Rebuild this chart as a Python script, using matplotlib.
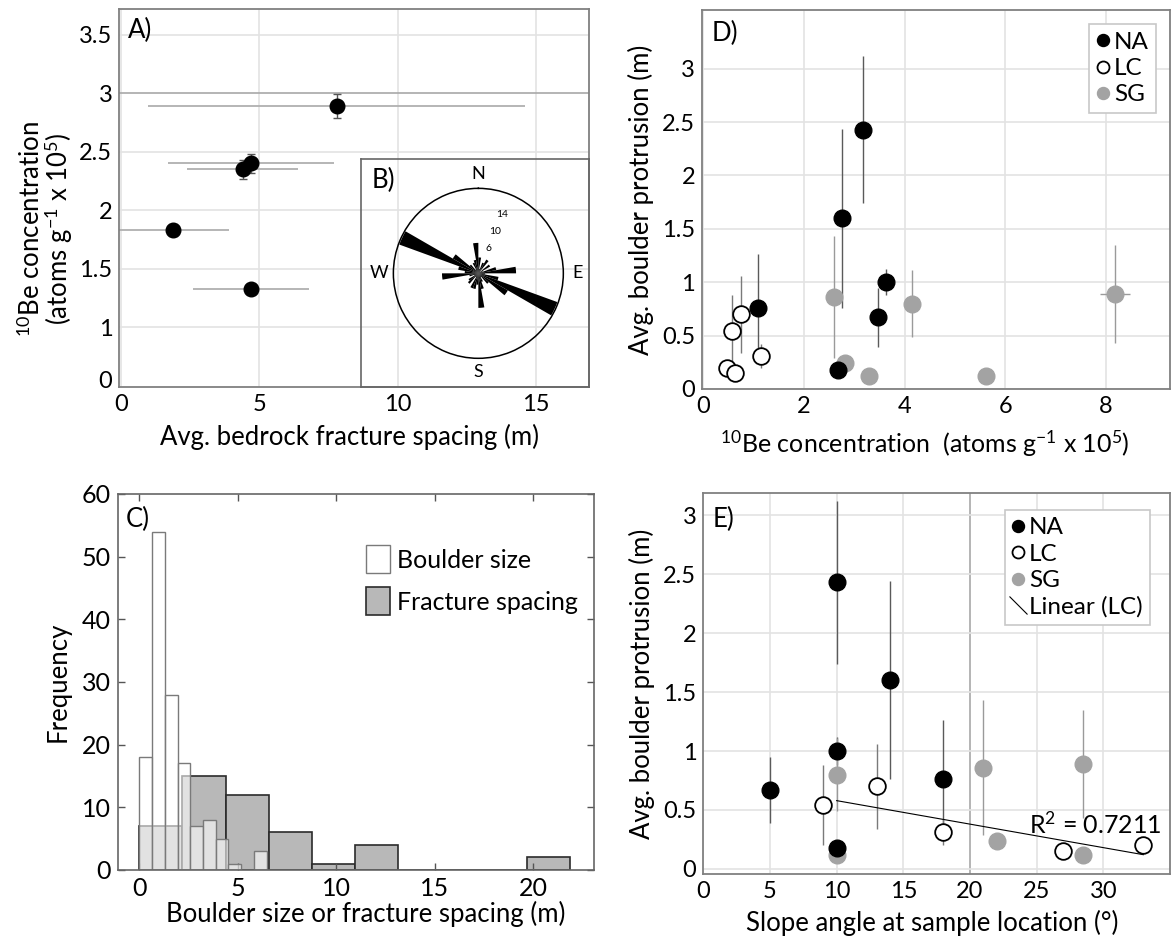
import numpy as np
import matplotlib
matplotlib.use("Agg")
import matplotlib.pyplot as plt
from matplotlib.lines import Line2D
from matplotlib.patches import Patch

plt.rcParams['font.family'] = ['Lato', 'DejaVu Sans']
plt.rcParams['mathtext.fontset'] = 'custom'
plt.rcParams['mathtext.rm'] = 'Lato'
plt.rcParams['mathtext.it'] = 'Lato:italic'
plt.rcParams['mathtext.bf'] = 'Lato:bold'

# A) bedrock fracture spacing vs 10Be concentration
a_spacing = [7.8, 4.4, 4.7, 1.9, 4.7]
a_spacing_err = [6.8, 2.0, 3.0, 2.0, 2.1]
a_be = [2.89, 2.35, 2.40, 1.83, 1.33]
a_be_err = [0.10, 0.08, 0.08, 0.05, 0.02]

# B) rose diagram of fracture orientations, 10 degree bins
rose_bins_deg = [5, 15, 25, 35, 45, 55, 65, 75, 85, 95, 105, 115,
                 125, 135, 145, 155, 165, 175, 185, 195, 205, 215, 225, 235,
                 245, 255, 265, 275, 285, 295, 305, 315, 325, 335, 345, 355]
rose_counts = [3.5, 1, 2.5, 3.5, 0.5, 3, 1, 4, 8.3, 1.5, 4.5, 18.5,
               7.5, 3, 1, 2, 3.5, 7.6, 2.5, 3.5, 3.5, 1, 3, 2.5,
               1, 2, 8, 3, 4.5, 18.5, 6.5, 2.5, 1, 2.5, 3, 6.7]
rose_ring_labels = [6, 10, 14]

# C) histograms
boulder_bin_width = 0.647
boulder_counts = [18, 54, 28, 17, 7, 8, 5, 1, 0, 3]
fracture_bin_width = 2.19
fracture_counts = [7, 15, 12, 6, 1, 4, 0, 0, 0, 2]

# D) / E) boulder protrusion per site
na_be = [1.10, 2.75, 3.17, 3.64, 3.47, 2.67]
na_slope = [18, 14, 10, 10, 5, 10]
na_prot = [0.76, 1.60, 2.43, 1.00, 0.67, 0.18]
na_prot_err = [0.50, 0.84, 0.69, 0.12, 0.28, 0.0]

lc_be = [0.75, 0.57, 0.48, 0.64, 1.16]
lc_slope = [13, 9, 33, 27, 18]
lc_prot = [0.70, 0.54, 0.20, 0.15, 0.31]
lc_prot_err = [0.36, 0.34, 0.0, 0.0, 0.11]

sg_be = [2.59, 2.82, 3.29, 4.15, 5.61, 8.18]
sg_be_err = [0, 0, 0, 0, 0.15, 0.3]
sg_slope = [21, 22, 10, 10, 28.5, 28.5]
sg_prot = [0.86, 0.24, 0.12, 0.80, 0.12, 0.89]
sg_prot_err = [0.57, 0.0, 0.0, 0.31, 0.0, 0.46]

lc_trend_x = [10, 33]
r2_text = "R$^2$ = 0.7211"

TICK = 17
LAB = 18.5
PANEL = 18.5
GRID = '#e3e3e3'
SPINE = '#808080'
SG_GREY = '#a3a3a3'


def excel_style(ax):
    for s in ax.spines.values():
        s.set_color(SPINE)
        s.set_linewidth(1.3)
    ax.tick_params(length=0, labelsize=TICK, pad=5)
    ax.grid(True, color=GRID, lw=1.2)
    ax.set_axisbelow(True)


def fmt(v):
    return f"{v:g}"


fig = plt.figure(figsize=(11.72, 9.38), dpi=100)

# ---------- A ----------
axA = fig.add_axes([0.1018, 0.5871, 0.4005, 0.4033])
excel_style(axA)
axA.errorbar(a_spacing, a_be, xerr=a_spacing_err, fmt='none', ecolor='#b0b0b0', elinewidth=1.3, zorder=2)
axA.errorbar(a_spacing, a_be, yerr=a_be_err, fmt='none', ecolor='#555555', elinewidth=1, capsize=3, zorder=2)
axA.plot(a_spacing, a_be, 'o', color='black', ms=10.5, zorder=3)
axA.set_xlim(-0.05, 16.9)
axA.set_ylim(0.486, 3.72)
axA.set_xticks([0, 5, 10, 15])
yt = [0.556, 1, 1.5, 2, 2.5, 3, 3.5]
axA.set_yticks(yt)
axA.set_yticklabels(['0', '1', '1.5', '2', '2.5', '3', '3.5'])
axA.get_ygridlines()[0].set_visible(False)
axA.get_ygridlines()[5].set_color('#a8a8a8')
axA.set_xlabel("Avg. bedrock fracture spacing (m)", fontsize=LAB, labelpad=6)
axA.xaxis.label.set_x(0.49)
axA.set_ylabel("$^{10}$Be concentration\n(atoms g$^{-1}$ x 10$^{5}$)", fontsize=LAB,
               linespacing=0.9, labelpad=3)
axA.yaxis.label.set_y(0.42)
axA.text(0.019, 0.944, "A)", transform=axA.transAxes, fontsize=PANEL, va='center')

# ---------- B (inset box + rose) ----------
axBox = fig.add_axes([0.308, 0.5871, 0.1943, 0.2434])
axBox.patch.set_alpha(0)
axBox.set_xticks([])
axBox.set_yticks([])
for s in axBox.spines.values():
    s.set_color('#666666')
    s.set_linewidth(1.2)
fig.text(0.317, 0.808, "B)", fontsize=PANEL, va='center')

axB = fig.add_axes([0.3356, 0.618, 0.1451, 0.1812], projection='polar')
axB.set_theta_zero_location('N')
axB.set_theta_direction(-1)
axB.bar(np.deg2rad(rose_bins_deg), rose_counts, width=np.deg2rad(10), color='black', linewidth=0)
axB.set_ylim(0, 18.7)
axB.set_xticks([])
axB.set_yticks([])
axB.grid(False)
axB.patch.set_alpha(0)
axB.spines['polar'].set_linewidth(1.1)
for r in rose_ring_labels:
    axB.text(np.deg2rad(22), r, str(r), fontsize=7.5, ha='center', va='center')
for ang, lab in [(0, 'N'), (90, 'E'), (180, 'S'), (270, 'W')]:
    axB.text(np.deg2rad(ang), 21.8, lab, fontsize=13, ha='center', va='center', clip_on=False)

# ---------- C ----------
axC = fig.add_axes([0.1004, 0.0725, 0.4064, 0.4009])
frac_edges = np.arange(len(fracture_counts)) * fracture_bin_width
bould_edges = np.arange(len(boulder_counts)) * boulder_bin_width
axC.bar(frac_edges, fracture_counts, width=fracture_bin_width, align='edge',
        facecolor='#b8b8b8', edgecolor='#2b2b2b', linewidth=1.2, zorder=1)
axC.bar(bould_edges, boulder_counts, width=boulder_bin_width, align='edge',
        facecolor=(1, 1, 1, 0.6), edgecolor='#7a7a7a', linewidth=1.0, zorder=2)
axC.set_xlim(-1.1, 23.1)
axC.set_ylim(0, 60)
axC.set_xticks([0, 5, 10, 15, 20])
axC.set_yticks(range(0, 61, 10))
axC.tick_params(direction='in', top=True, right=True, length=5, width=1,
                color='#555555', labelsize=TICK + 1, pad=5)
for s in axC.spines.values():
    s.set_color('#666666')
    s.set_linewidth(1.2)
axC.set_xlabel("Boulder size or fracture spacing (m)", fontsize=LAB, labelpad=1)
axC.xaxis.label.set_x(0.52)
axC.set_ylabel("Frequency", fontsize=LAB, labelpad=8)
axC.text(0.017, 0.931, "C)", transform=axC.transAxes, fontsize=PANEL, va='center')
hC = [Patch(facecolor='white', edgecolor='#7a7a7a', lw=1.0),
      Patch(facecolor='#b8b8b8', edgecolor='#2b2b2b', lw=1.2)]
axC.legend(hC, ["Boulder size", "Fracture spacing"], loc='upper left',
           bbox_to_anchor=(0.5, 0.89), frameon=False, fontsize=18, borderaxespad=0,
           handlelength=0.95, handleheight=1.35, handletextpad=0.3, labelspacing=0.55)


# ---------- D and E ----------
def site_points(ax, xs_na, xs_lc, xs_sg, sg_xerr=None):
    ax.errorbar(xs_na, na_prot, yerr=na_prot_err, fmt='none', ecolor='#5a5a5a', elinewidth=1, zorder=2)
    ax.errorbar(xs_lc, lc_prot, yerr=lc_prot_err, fmt='none', ecolor='#7a7a7a', elinewidth=1, zorder=2)
    ax.errorbar(xs_sg, sg_prot, yerr=sg_prot_err, xerr=sg_xerr, fmt='none', ecolor='#9a9a9a',
                elinewidth=1, zorder=2)
    ax.plot(xs_na, na_prot, 'o', color='black', mec='black', ms=12, zorder=4, label='NA')
    ax.plot(xs_lc, lc_prot, 'o', color='white', mec='black', mew=1.3, ms=12, zorder=4, label='LC')
    ax.plot(xs_sg, sg_prot, 'o', color=SG_GREY, mec=SG_GREY, ms=12, zorder=3, label='SG')


leg_kw = dict(fontsize=17.5, markerscale=0.72, handlelength=0.5, handletextpad=0.2,
              labelspacing=0.22, borderpad=0.3, borderaxespad=0, fancybox=False,
              edgecolor='#c8c8c8', framealpha=1)

axD = fig.add_axes([0.599, 0.5853, 0.3993, 0.404])
excel_style(axD)
site_points(axD, na_be, lc_be, sg_be, sg_xerr=sg_be_err)
axD.set_xlim(-0.02, 9.27)
axD.set_ylim(0, 3.55)
axD.set_xticks([0, 2, 4, 6, 8])
dy = [0, 0.5, 1, 1.5, 2, 2.5, 3]
axD.set_yticks(dy)
axD.set_yticklabels([fmt(v) for v in dy])
axD.set_xlabel("$^{10}$Be concentration  (atoms g$^{-1}$ x 10$^{5}$)", fontsize=LAB - 0.5, labelpad=8)
axD.xaxis.label.set_x(0.475)
axD.set_ylabel("Avg. boulder protrusion (m)", fontsize=LAB, labelpad=6)
axD.text(0.021, 0.939, "D)", transform=axD.transAxes, fontsize=PANEL, va='center')
legD = axD.legend(loc='upper right', bbox_to_anchor=(0.97, 0.962), **leg_kw)
legD.get_frame().set_linewidth(1.2)

axE = fig.add_axes([0.6001, 0.0682, 0.3982, 0.4059])
excel_style(axE)
site_points(axE, na_slope, lc_slope, sg_slope)
coef = np.polyfit(lc_slope, lc_prot, 1)
axE.plot(lc_trend_x, np.polyval(coef, lc_trend_x), color='black', lw=0.8, zorder=3)
axE.text(29.4, 0.38, r2_text, fontsize=18, ha='center', va='center')
axE.set_xlim(0.03, 35)
axE.set_ylim(-0.043, 3.185)
axE.set_xticks(range(0, 31, 5))
ey = [0, 0.5, 1, 1.5, 2, 2.5, 3]
axE.set_yticks(ey)
axE.set_yticklabels([fmt(v) for v in ey])
axE.get_xgridlines()[4].set_color('#a8a8a8')
axE.set_xlabel("Slope angle at sample location (°)", fontsize=LAB, labelpad=6)
axE.xaxis.label.set_x(0.49)
axE.set_ylabel("Avg. boulder protrusion (m)", fontsize=LAB, labelpad=6)
axE.text(0.021, 0.932, "E)", transform=axE.transAxes, fontsize=PANEL, va='center')
hE, lE = axE.get_legend_handles_labels()
hE.append(Line2D([], [], linestyle='None', marker=[(-1, 1), (1, -1)], color='black',
                 mew=0.8, ms=18))
lE.append("Linear (LC)")
legE = axE.legend(hE, lE, loc='upper right', bbox_to_anchor=(0.957, 0.956), **leg_kw)
legE.get_frame().set_linewidth(1.2)

fig.savefig("out.png", dpi=100)
